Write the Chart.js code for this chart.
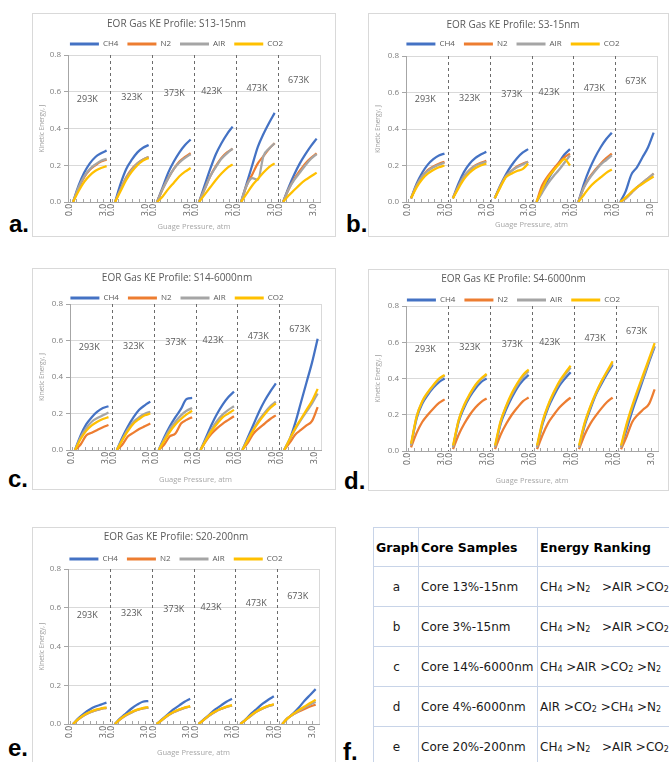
<!DOCTYPE html>
<html>
<head>
<meta charset="utf-8">
<script src="https://cdn.jsdelivr.net/npm/chart.js@4.4.1/dist/chart.umd.min.js"></script>
<style>
  html, body { margin: 0; padding: 0; background: #fff; }
  body { width: 669px; height: 762px; overflow: hidden; position: relative; }
  .box { position: absolute; border: 1px solid #d9d9d9; background: #fff; }
  .box canvas { display: block; }
  .tag { position: absolute; font: bold 24px "Liberation Sans", Arial, sans-serif; line-height: 24px; color: #000; }
  #rank { position: absolute; left: 373px; top: 527px; width: 320px; border-collapse: collapse; table-layout: fixed;
          font-family: "DejaVu Sans", sans-serif; font-size: 12px; color: #1a1a1a; }
  #rank td, #rank th { box-sizing: border-box; border: 1px solid #c8d4e8; padding: 0 1px 0 2px;
                       white-space: nowrap; text-align: left; overflow: visible; }
  #rank th { font-weight: bold; color: #000; font-size: 12.5px; height: 39px; }
  #rank td { height: 40px; }
  #rank td:first-child { text-align: center; }
  #rank sub { font-size: 8px; vertical-align: -1px; }
</style>
</head>
<body>

<div class="box" style="left:32px;top:13px;"><canvas id="chartA" width="302" height="222"></canvas></div>
<div class="box" style="left:368px;top:13px;"><canvas id="chartB" width="299" height="222"></canvas></div>
<div class="box" style="left:32px;top:268px;"><canvas id="chartC" width="302" height="220"></canvas></div>
<div class="box" style="left:368px;top:269px;"><canvas id="chartD" width="299" height="220"></canvas></div>
<div class="box" style="left:32px;top:527px;"><canvas id="chartE" width="302" height="238"></canvas></div>

<table id="rank">
  <colgroup><col style="width:45px"><col style="width:119px"><col style="width:156px"></colgroup>
  <thead><tr><th>Graph</th><th>Core Samples</th><th>Energy Ranking</th></tr></thead>
  <tbody id="rankBody"></tbody>
</table>

<div class="tag" style="left:9px;top:212px;">a.</div>
<div class="tag" style="left:346px;top:212px;">b.</div>
<div class="tag" style="left:8px;top:467px;">c.</div>
<div class="tag" style="left:344px;top:469px;">d.</div>
<div class="tag" style="left:8px;top:736px;">e.</div>
<div class="tag" style="left:343px;top:740px;">f.</div>

<script>
// gauge pressure points inside every temperature block (atm)
const pressure = [0, 0.5, 1.0, 1.5, 2.0, 2.5, 3.0];
const temperatures = ["293K", "323K", "373K", "423K", "473K", "673K"];
const gases = ["CH4", "N2", "AIR", "CO2"];
const xTickText = ["0.0", "3.0"];
const chartTitles = [
  "EOR Gas KE Profile: S13-15nm",
  "EOR Gas KE Profile: S3-15nm",
  "EOR Gas KE Profile: S14-6000nm",
  "EOR Gas KE Profile: S4-6000nm",
  "EOR Gas KE Profile: S20-200nm"
];

// kinetic energy (J), one row of 7 per temperature block
const s13_CH4 = [
  0, 0.09, 0.16, 0.21, 0.245, 0.265, 0.28,
  0, 0.10, 0.18, 0.23, 0.27, 0.295, 0.31,
  0, 0.08, 0.16, 0.22, 0.27, 0.31, 0.34,
  0, 0.09, 0.18, 0.26, 0.32, 0.37, 0.41,
  0, 0.10, 0.20, 0.30, 0.37, 0.43, 0.485,
  0, 0.08, 0.15, 0.21, 0.26, 0.305, 0.345];
const s13_N2 = [
  0, 0.075, 0.135, 0.175, 0.20, 0.22, 0.23,
  0, 0.07, 0.135, 0.18, 0.21, 0.232, 0.245,
  0, 0.07, 0.13, 0.18, 0.22, 0.245, 0.265,
  0, 0.07, 0.14, 0.195, 0.24, 0.27, 0.29,
  0, 0.09, 0.15, 0.21, 0.25, 0.29, 0.32,
  0, 0.07, 0.125, 0.17, 0.21, 0.24, 0.265];
const s13_AIR = [
  0, 0.08, 0.14, 0.18, 0.205, 0.225, 0.235,
  0, 0.07, 0.13, 0.175, 0.21, 0.23, 0.245,
  0, 0.07, 0.13, 0.18, 0.215, 0.24, 0.26,
  0, 0.07, 0.14, 0.19, 0.235, 0.265, 0.29,
  0, 0.09, 0.13, 0.12, 0.25, 0.29, 0.32,
  0, 0.07, 0.12, 0.16, 0.20, 0.235, 0.26];
const s13_CO2 = [
  0, 0.06, 0.11, 0.145, 0.17, 0.185, 0.195,
  0, 0.06, 0.12, 0.165, 0.20, 0.225, 0.24,
  0, 0.03, 0.07, 0.105, 0.14, 0.165, 0.185,
  0, 0.04, 0.08, 0.12, 0.155, 0.185, 0.205,
  0, 0.045, 0.09, 0.125, 0.16, 0.19, 0.21,
  0, 0.035, 0.065, 0.095, 0.12, 0.14, 0.16];

const s3_CH4 = [
  0.02, 0.10, 0.16, 0.205, 0.235, 0.255, 0.265,
  0.02, 0.10, 0.165, 0.21, 0.24, 0.26, 0.275,
  0.02, 0.09, 0.15, 0.20, 0.24, 0.27, 0.29,
  0, 0.06, 0.12, 0.17, 0.215, 0.26, 0.29,
  0, 0.10, 0.18, 0.245, 0.30, 0.345, 0.38,
  0, 0.06, 0.15, 0.19, 0.245, 0.30, 0.38];
const s3_N2 = [
  0.02, 0.09, 0.14, 0.175, 0.195, 0.21, 0.22,
  0.02, 0.085, 0.14, 0.175, 0.20, 0.215, 0.225,
  0.02, 0.085, 0.14, 0.17, 0.195, 0.21, 0.22,
  0, 0.09, 0.14, 0.18, 0.215, 0.245, 0.265,
  0, 0.08, 0.135, 0.175, 0.21, 0.24, 0.265,
  0, 0.02, 0.05, 0.08, 0.105, 0.13, 0.155];
const s3_AIR = [
  0.02, 0.09, 0.14, 0.17, 0.19, 0.205, 0.215,
  0.02, 0.085, 0.14, 0.175, 0.198, 0.21, 0.22,
  0.02, 0.085, 0.14, 0.17, 0.19, 0.205, 0.22,
  0, 0.05, 0.10, 0.14, 0.175, 0.215, 0.255,
  0, 0.08, 0.13, 0.17, 0.205, 0.23, 0.255,
  0, 0.02, 0.05, 0.08, 0.105, 0.13, 0.155];
const s3_CO2 = [
  0.02, 0.08, 0.125, 0.155, 0.175, 0.19, 0.20,
  0.02, 0.075, 0.125, 0.16, 0.185, 0.20, 0.21,
  0.02, 0.08, 0.135, 0.155, 0.17, 0.18, 0.21,
  0, 0.07, 0.13, 0.17, 0.205, 0.235, 0.20,
  0, 0.04, 0.08, 0.11, 0.135, 0.16, 0.178,
  0, 0.025, 0.055, 0.08, 0.10, 0.12, 0.14];

const s14_CH4 = [
  0, 0.08, 0.14, 0.18, 0.21, 0.23, 0.24,
  0, 0.07, 0.13, 0.18, 0.22, 0.245, 0.265,
  0, 0.07, 0.13, 0.18, 0.225, 0.28, 0.285,
  0, 0.07, 0.14, 0.20, 0.25, 0.29, 0.32,
  0, 0.07, 0.14, 0.21, 0.27, 0.32, 0.365,
  0, 0.06, 0.15, 0.26, 0.37, 0.48, 0.61];
const s14_N2 = [
  0, 0.03, 0.08, 0.095, 0.11, 0.125, 0.137,
  0, 0.03, 0.075, 0.095, 0.115, 0.13, 0.145,
  0, 0.03, 0.075, 0.09, 0.145, 0.165, 0.18,
  0, 0.05, 0.09, 0.12, 0.145, 0.165, 0.185,
  0, 0.04, 0.09, 0.12, 0.145, 0.17, 0.19,
  0, 0.04, 0.085, 0.11, 0.135, 0.16, 0.235];
const s14_AIR = [
  0, 0.07, 0.12, 0.155, 0.175, 0.19, 0.205,
  0, 0.06, 0.115, 0.155, 0.18, 0.198, 0.21,
  0, 0.06, 0.115, 0.155, 0.19, 0.215, 0.23,
  0, 0.06, 0.115, 0.16, 0.195, 0.22, 0.24,
  0, 0.06, 0.115, 0.165, 0.205, 0.24, 0.265,
  0, 0.06, 0.115, 0.165, 0.21, 0.255, 0.31];
const s14_CO2 = [
  0, 0.06, 0.105, 0.135, 0.155, 0.17, 0.18,
  0, 0.055, 0.105, 0.145, 0.17, 0.19, 0.20,
  0, 0.05, 0.10, 0.14, 0.17, 0.195, 0.215,
  0, 0.055, 0.105, 0.145, 0.18, 0.20, 0.22,
  0, 0.055, 0.11, 0.155, 0.195, 0.23, 0.255,
  0, 0.06, 0.12, 0.17, 0.22, 0.27, 0.335];

const s4_CH4 = [
  0.03, 0.18, 0.26, 0.31, 0.35, 0.38, 0.40,
  0.02, 0.16, 0.24, 0.30, 0.345, 0.38, 0.40,
  0.02, 0.15, 0.23, 0.295, 0.35, 0.39, 0.42,
  0.02, 0.15, 0.24, 0.305, 0.36, 0.40, 0.435,
  0.02, 0.14, 0.23, 0.31, 0.37, 0.425, 0.475,
  0.02, 0.12, 0.22, 0.31, 0.40, 0.49, 0.575];
const s4_N2 = [
  0.02, 0.10, 0.16, 0.20, 0.235, 0.265, 0.285,
  0.01, 0.09, 0.15, 0.20, 0.24, 0.27, 0.29,
  0.01, 0.09, 0.15, 0.20, 0.24, 0.275, 0.295,
  0.01, 0.09, 0.155, 0.20, 0.24, 0.27, 0.295,
  0.01, 0.09, 0.15, 0.195, 0.235, 0.27, 0.295,
  0.01, 0.08, 0.16, 0.20, 0.23, 0.26, 0.34];
const s4_AIR = [
  0.03, 0.19, 0.27, 0.32, 0.36, 0.395, 0.415,
  0.02, 0.17, 0.25, 0.31, 0.36, 0.395, 0.42,
  0.02, 0.16, 0.245, 0.31, 0.365, 0.41, 0.44,
  0.02, 0.16, 0.25, 0.32, 0.375, 0.42, 0.46,
  0.02, 0.15, 0.24, 0.315, 0.38, 0.435, 0.485,
  0.02, 0.14, 0.24, 0.33, 0.41, 0.50, 0.58];
const s4_CO2 = [
  0.04, 0.19, 0.275, 0.325, 0.365, 0.40, 0.42,
  0.03, 0.17, 0.255, 0.315, 0.365, 0.40, 0.425,
  0.03, 0.165, 0.25, 0.32, 0.375, 0.42, 0.45,
  0.03, 0.165, 0.255, 0.325, 0.385, 0.43, 0.47,
  0.03, 0.155, 0.245, 0.32, 0.385, 0.44, 0.495,
  0.03, 0.15, 0.25, 0.34, 0.425, 0.51, 0.595];

const s20_CH4 = [
  0, 0.03, 0.055, 0.075, 0.09, 0.10, 0.11,
  0, 0.03, 0.055, 0.08, 0.10, 0.115, 0.118,
  0, 0.025, 0.05, 0.075, 0.095, 0.115, 0.13,
  0, 0.025, 0.05, 0.075, 0.095, 0.115, 0.13,
  0, 0.025, 0.055, 0.08, 0.105, 0.125, 0.143,
  0, 0.03, 0.055, 0.085, 0.12, 0.15, 0.18];
const s20_N2 = [
  0, 0.025, 0.045, 0.06, 0.07, 0.078, 0.083,
  0, 0.025, 0.045, 0.06, 0.072, 0.08, 0.085,
  0, 0.022, 0.043, 0.06, 0.073, 0.083, 0.09,
  0, 0.022, 0.045, 0.063, 0.077, 0.088, 0.095,
  0, 0.022, 0.045, 0.065, 0.08, 0.092, 0.10,
  0, 0.03, 0.05, 0.065, 0.078, 0.09, 0.10];
const s20_AIR = [
  0, 0.025, 0.045, 0.06, 0.07, 0.078, 0.083,
  0, 0.025, 0.045, 0.06, 0.072, 0.08, 0.085,
  0, 0.022, 0.043, 0.06, 0.073, 0.083, 0.09,
  0, 0.022, 0.045, 0.063, 0.077, 0.088, 0.095,
  0, 0.022, 0.045, 0.065, 0.08, 0.092, 0.10,
  0, 0.03, 0.05, 0.068, 0.085, 0.10, 0.115];
const s20_CO2 = [
  0, 0.026, 0.047, 0.062, 0.073, 0.08, 0.086,
  0, 0.026, 0.047, 0.062, 0.074, 0.082, 0.087,
  0, 0.023, 0.045, 0.062, 0.075, 0.085, 0.092,
  0, 0.023, 0.047, 0.065, 0.079, 0.09, 0.097,
  0, 0.023, 0.047, 0.067, 0.082, 0.094, 0.102,
  0, 0.03, 0.052, 0.072, 0.09, 0.108, 0.125];

// table f
const tableGraph = ["a", "b", "c", "d", "e"];
const tableCore = ["Core 13%-15nm", "Core 3%-15nm", "Core 14%-6000nm", "Core 4%-6000nm", "Core 20%-200nm"];
const tableRanking = [
  "CH<sub>4</sub> &gt;N<sub>2</sub>&nbsp;&nbsp; &gt;AIR &gt;CO<sub>2</sub>",
  "CH<sub>4</sub> &gt;N<sub>2</sub>&nbsp;&nbsp; &gt;AIR &gt;CO<sub>2</sub>",
  "CH<sub>4</sub> &gt;AIR &gt;CO<sub>2</sub> &gt;N<sub>2</sub>",
  "AIR &gt;CO<sub>2</sub> &gt;CH<sub>4</sub> &gt;N<sub>2</sub>",
  "CH<sub>4</sub> &gt;N<sub>2</sub>&nbsp;&nbsp; &gt;AIR &gt;CO<sub>2</sub>"
];

// ---- layout / style ----
const gasColors = ["#4472C4", "#ED7D31", "#A5A5A5", "#FFC000"];
const SEG = 3.75;      // width of one temperature block on the x axis
const START = 0.45;    // gap between block start and first pressure point
const tickFrac = [0.04, 0.2, 0.36, 0.52, 0.68, 0.84];
const tempLabelFrac = [0.46, 0.52, 0.53, 0.42, 0.5, 0.49];
const tempLabelLevel = [0.56, 0.57, 0.59, 0.60, 0.62, 0.66];

Chart.defaults.font.family = '"Open Sans", "Noto Sans", sans-serif';
Chart.defaults.color = "#595959";

const xTicks = [];
temperatures.forEach((t, k) => {
  tickFrac.forEach((f, j) => {
    let label = "";
    if (j === 0) label = xTickText[0];
    if (j === tickFrac.length - 1) label = xTickText[1];
    xTicks.push({ value: k * SEG + f * SEG, label: label });
  });
});

function buildPoints(values) {
  const pts = [];
  temperatures.forEach((t, k) => {
    pressure.forEach((p, j) => {
      pts.push({ x: k * SEG + START + p, y: values[k * pressure.length + j] });
    });
    pts.push({ x: (k + 1) * SEG, y: null });
  });
  return pts;
}

const blockPlugin = {
  id: "blocks",
  beforeDatasetsDraw(chart) {
    const { ctx, chartArea: a, scales: { x, y } } = chart;
    ctx.save();
    // small inside tick marks on the x axis
    ctx.strokeStyle = "#a6a6a6";
    ctx.lineWidth = 1;
    xTicks.forEach(t => {
      const px = Math.round(x.getPixelForValue(t.value)) + 0.5;
      ctx.beginPath();
      ctx.moveTo(px, a.bottom);
      ctx.lineTo(px, a.bottom - 3);
      ctx.stroke();
    });
    // right edge of plot
    ctx.strokeStyle = "#d9d9d9";
    ctx.beginPath();
    ctx.moveTo(Math.round(a.right) + 0.5, a.top);
    ctx.lineTo(Math.round(a.right) + 0.5, a.bottom);
    ctx.stroke();
    // dashed separators between temperatures
    ctx.strokeStyle = "#6b6b6b";
    ctx.setLineDash([3, 3]);
    for (let k = 1; k < temperatures.length; k++) {
      const px = Math.round(x.getPixelForValue(k * SEG)) + 0.5;
      ctx.beginPath();
      ctx.moveTo(px, a.top);
      ctx.lineTo(px, a.bottom);
      ctx.stroke();
    }
    ctx.setLineDash([]);
    // temperature labels
    ctx.fillStyle = "#595959";
    ctx.font = '9px "Open Sans", sans-serif';
    ctx.textAlign = "center";
    ctx.textBaseline = "middle";
    temperatures.forEach((t, k) => {
      ctx.fillText(t, x.getPixelForValue(k * SEG + SEG * tempLabelFrac[k]), y.getPixelForValue(tempLabelLevel[k]));
    });
    ctx.restore();
  }
};

function makeChart(canvasId, title, series, L) {
  const datasets = series.map((vals, i) => ({
    label: gases[i],
    data: buildPoints(vals),
    borderColor: gasColors[i],
    backgroundColor: gasColors[i],
    borderWidth: 2.25,
    pointRadius: 0,
    cubicInterpolationMode: "monotone",
    spanGaps: false,
    order: series.length - i
  }));
  return new Chart(document.getElementById(canvasId), {
    type: "line",
    data: { datasets: datasets },
    plugins: [blockPlugin],
    options: {
      responsive: false,
      animation: false,
      devicePixelRatio: 1,
      layout: { padding: { left: 0, right: L.pr, top: 0, bottom: 0 } },
      plugins: {
        tooltip: { enabled: false },
        title: {
          display: true, text: title, color: "#595959",
          font: { size: 10, weight: "normal" },
          padding: { top: L.tt, bottom: L.tb }
        },
        legend: {
          position: "top",
          maxHeight: L.lh,
          labels: {
            boxWidth: 29, boxHeight: 3, padding: 9, color: "#595959",
            font: { size: 8 },
            sort: (a, b) => a.datasetIndex - b.datasetIndex,
            generateLabels: chart => Chart.defaults.plugins.legend.labels.generateLabels(chart)
              .map(item => Object.assign(item, { lineWidth: 0 }))
          }
        }
      },
      scales: {
        x: {
          type: "linear",
          min: 0,
          max: temperatures.length * SEG,
          afterBuildTicks: s => { s.ticks = xTicks.map(t => ({ value: t.value })); },
          afterFit: s => { s.height = L.xh; },
          ticks: {
            autoSkip: false, minRotation: 90, maxRotation: 90, padding: 2,
            color: "#595959", font: { size: 8.5 },
            callback: (v, i) => xTicks[i] ? xTicks[i].label : ""
          },
          grid: { display: true, drawOnChartArea: false, drawTicks: false },
          border: { color: "#a6a6a6" },
          title: {
            display: true, text: "Guage Pressure, atm", color: "#a6a6a6",
            font: { size: 7.5 }, padding: { top: 0, bottom: L.xp }
          }
        },
        y: {
          min: 0,
          max: 0.8,
          afterFit: s => { s.width = L.yw; },
          ticks: { stepSize: 0.2, padding: 3, color: "#7f7f7f", font: { size: 8 },
                   callback: v => v.toFixed(1) },
          grid: { color: "#d9d9d9", tickColor: "#a6a6a6", tickLength: 4 },
          border: { color: "#a6a6a6" },
          title: {
            display: true, text: "Kinetic Energy, J", color: "#a0a0a0",
            font: { size: 6.5 }, padding: { top: 5, bottom: 0 }
          }
        }
      }
    }
  });
}

makeChart("chartA", chartTitles[0], [s13_CH4, s13_N2, s13_AIR, s13_CO2],
  { pr: 15, yw: 35, xh: 34, xp: 4.5, tt: 4, tb: 1, lh: 24 });
makeChart("chartB", chartTitles[1], [s3_CH4, s3_N2, s3_AIR, s3_CO2],
  { pr: 11, yw: 37, xh: 34, xp: 6.5, tt: 5, tb: 0, lh: 25 });
makeChart("chartC", chartTitles[2], [s14_CH4, s14_N2, s14_AIR, s14_CO2],
  { pr: 14, yw: 37, xh: 39, xp: 4.5, tt: 3, tb: 1, lh: 19 });
makeChart("chartD", chartTitles[3], [s4_CH4, s4_N2, s4_AIR, s4_CO2],
  { pr: 10, yw: 37, xh: 39, xp: 4.5, tt: 3, tb: 2, lh: 19 });
makeChart("chartE", chartTitles[4], [s20_CH4, s20_N2, s20_AIR, s20_CO2],
  { pr: 16, yw: 35, xh: 42, xp: 8.5, tt: 3, tb: 3, lh: 23 });

// table rows
const body = document.getElementById("rankBody");
tableGraph.forEach((g, i) => {
  const tr = document.createElement("tr");
  tr.innerHTML = "<td>" + g + "</td><td>" + tableCore[i] + "</td><td>" + tableRanking[i] + "</td>";
  body.appendChild(tr);
});
</script>
</body>
</html>
